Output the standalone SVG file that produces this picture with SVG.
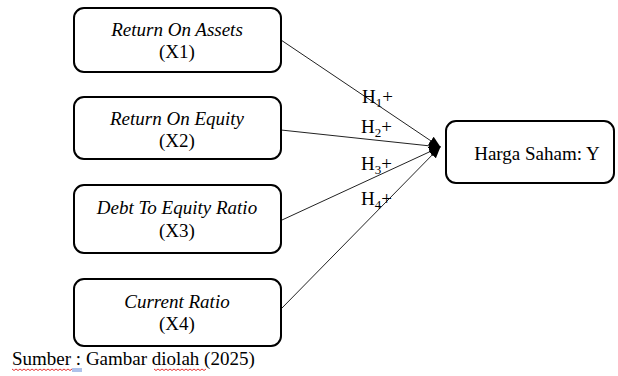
<svg xmlns="http://www.w3.org/2000/svg" width="618" height="376" viewBox="0 0 618 376">
<style>
.box{fill:#fff;stroke:#000;stroke-width:2}
.t{font-family:'Liberation Serif',serif;font-size:19px;fill:#000;text-anchor:middle}
.i{font-style:italic}
.c{stroke:#222;stroke-width:1;fill:none}
.h{font-family:'Liberation Serif',serif;font-size:19px;fill:#000}
.sub{font-size:13px}
.wavy{fill:none;stroke:#d00;stroke-width:0.8}
</style>
<defs>
<marker id="ah" markerWidth="12" markerHeight="10" refX="11" refY="5" orient="auto" markerUnits="userSpaceOnUse">
<path d="M0,0 L12,5 L0,10 Z" fill="#000"/>
</marker>
</defs>
<rect width="618" height="376" fill="#fff"/>
<g id="connectors">
<line class="c" x1="281" y1="40" x2="440" y2="147" marker-end="url(#ah)"/>
<line class="c" x1="281" y1="130" x2="440" y2="147" marker-end="url(#ah)"/>
<line class="c" x1="282" y1="220" x2="440" y2="147" marker-end="url(#ah)"/>
<line class="c" x1="282" y1="308" x2="440" y2="147" marker-end="url(#ah)"/>
<text class="h" x="362" y="103">H<tspan class="sub" dy="4">1</tspan><tspan dy="-4">+</tspan></text>
<text class="h" x="361" y="133">H<tspan class="sub" dy="4">2</tspan><tspan dy="-4">+</tspan></text>
<text class="h" x="361" y="170">H<tspan class="sub" dy="4">3</tspan><tspan dy="-4">+</tspan></text>
<text class="h" x="361" y="205">H<tspan class="sub" dy="4">4</tspan><tspan dy="-4">+</tspan></text>
</g>
<g id="x1">
<rect class="box" x="74" y="8" width="207" height="64" rx="10"/>
<text class="t i" x="177" y="36">Return On Assets</text>
<text class="t" x="177" y="58">(X1)</text>
</g>
<g id="x2">
<rect class="box" x="74" y="97" width="207" height="62" rx="10"/>
<text class="t i" x="177" y="125">Return On Equity</text>
<text class="t" x="177" y="147">(X2)</text>
</g>
<g id="x3">
<rect class="box" x="74" y="185" width="207" height="68" rx="10"/>
<text class="t i" x="177" y="214">Debt To Equity Ratio</text>
<text class="t" x="177" y="237">(X3)</text>
</g>
<g id="x4">
<rect class="box" x="74" y="279" width="207" height="67" rx="10"/>
<text class="t i" x="177" y="308">Current Ratio</text>
<text class="t" x="177" y="330">(X4)</text>
</g>
<g id="y">
<rect class="box" x="446" y="121" width="168" height="62" rx="10"/>
<text class="t" x="537" y="160">Harga Saham: Y</text>
</g>
<g id="caption">
<text class="h" x="12" y="365">Sumber : Gambar diolah (2025)</text>
<path class="wavy" d="M12,369 l2,1.5 l2,-1.5 l2,1.5 l2,-1.5 l2,1.5 l2,-1.5 l2,1.5 l2,-1.5 l2,1.5 l2,-1.5 l2,1.5 l2,-1.5 l2,1.5 l2,-1.5 l2,1.5 l2,-1.5 l2,1.5 l2,-1.5 l2,1.5 l2,-1.5 l2,1.5 l2,-1.5 l2,1.5 l2,-1.5 l2,1.5 l2,-1.5 l2,1.5 l2,-1.5 l2,1.5 l2,-1.5"/>
<path d="M72,369 h10 M72,371 h10" stroke="#3366cc" stroke-width="0.8"/>
<path class="wavy" d="M154,369 l2,1.5 l2,-1.5 l2,1.5 l2,-1.5 l2,1.5 l2,-1.5 l2,1.5 l2,-1.5 l2,1.5 l2,-1.5 l2,1.5 l2,-1.5 l2,1.5 l2,-1.5 l2,1.5 l2,-1.5 l2,1.5 l2,-1.5 l2,1.5 l2,-1.5 l2,1.5 l2,-1.5 l2,1.5 l2,-1.5 l2,1.5 l2,-1.5"/>
</g>
</svg>
